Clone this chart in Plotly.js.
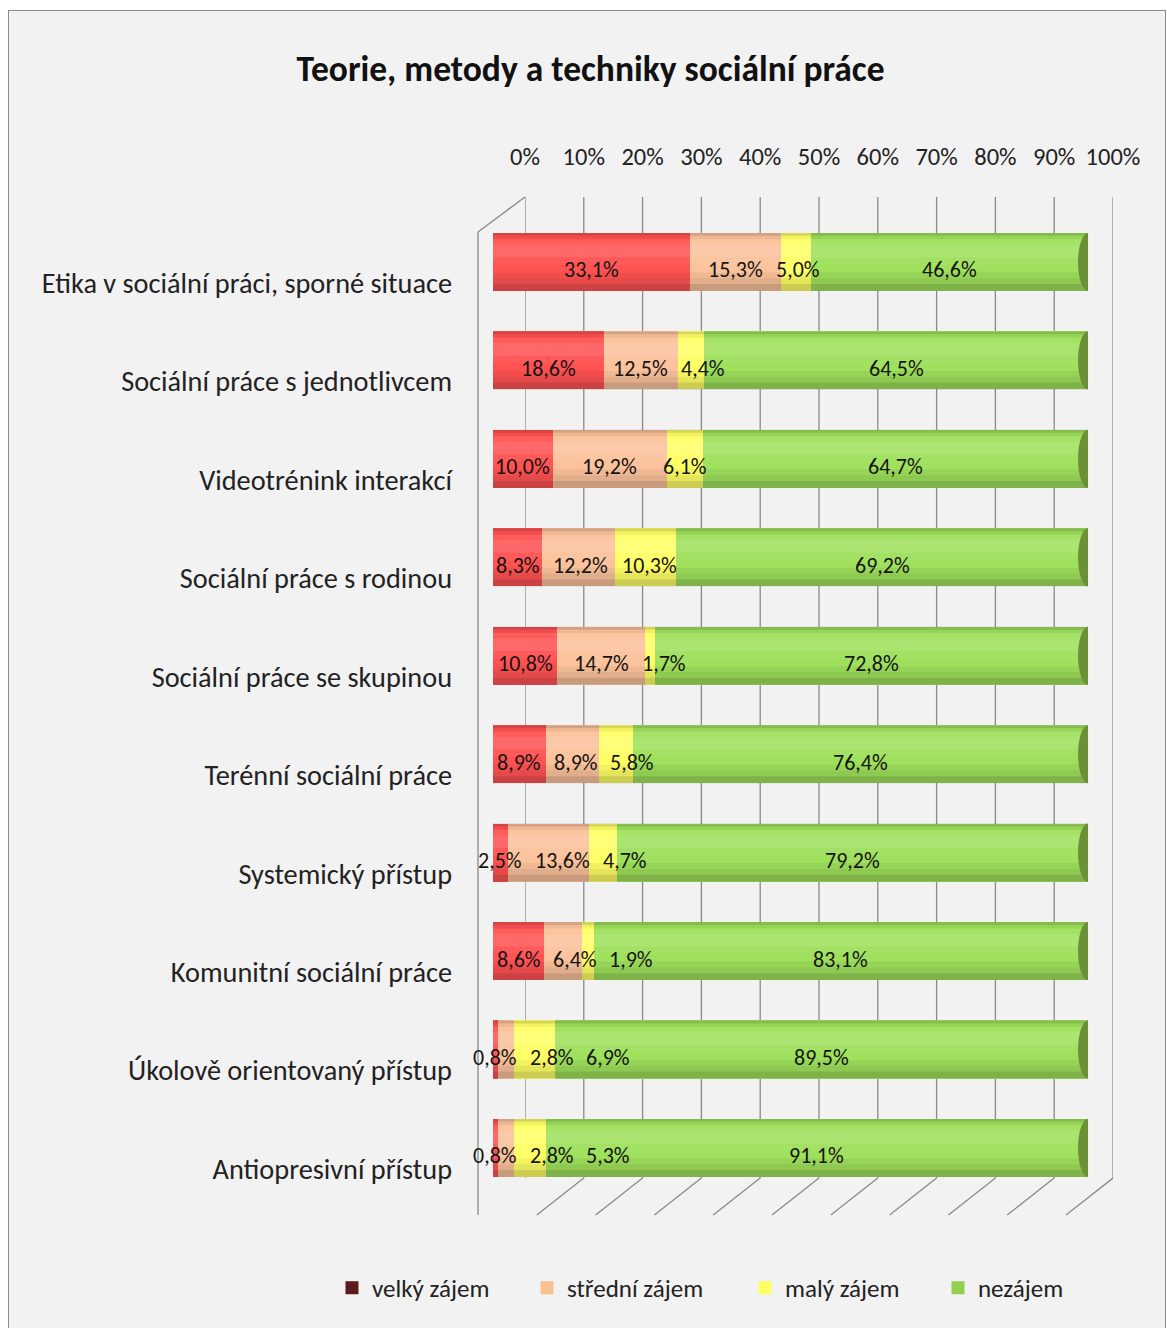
<!DOCTYPE html>
<html><head><meta charset="utf-8">
<script src="https://cdn.plot.ly/plotly-3.0.1.min.js"></script>
<style>
html,body{margin:0;padding:0;background:#fff;overflow:hidden;}
#frame{position:absolute;left:8px;top:10px;width:1158px;height:1340px;background:#f2f2f2;border:1.5px solid #8c8c8c;box-sizing:border-box;}
#chart{position:absolute;left:0;top:0;width:1167px;height:1328px;}
</style></head><body>
<div id="frame"></div><div id="chart"></div>
<script>
const categories = [
  'Etika v sociální práci, sporné situace',
  'Sociální práce s jednotlivcem',
  'Videotrénink interakcí',
  'Sociální práce s rodinou',
  'Sociální práce se skupinou',
  'Terénní sociální práce',
  'Systemický přístup',
  'Komunitní sociální práce',
  'Úkolově orientovaný přístup',
  'Antiopresivní přístup'
];
const velkyZajem   = [33.1, 18.6, 10.0, 8.3, 10.8, 8.9, 2.5, 8.6, 0.8, 0.8];
const stredniZajem = [15.3, 12.5, 19.2, 12.2, 14.7, 8.9, 13.6, 6.4, 2.8, 2.8];
const malyZajem    = [5.0, 4.4, 6.1, 10.3, 1.7, 5.8, 4.7, 1.9, 6.9, 5.3];
const nezajem      = [46.6, 64.5, 64.7, 69.2, 72.8, 76.4, 79.2, 83.1, 89.5, 91.1];
const seriesNames  = ['velký zájem', 'střední zájem', 'malý zájem', 'nezájem'];
const xTickValues  = [0, 10, 20, 30, 40, 50, 60, 70, 80, 90, 100];
const xTickLabels  = ['0%', '10%', '20%', '30%', '40%', '50%', '60%', '70%', '80%', '90%', '100%'];

const FONT = 'Carlito, Lato, "DejaVu Sans", sans-serif';
const barColors    = ['#ff5252', '#fbc29b', '#ffff66', '#9fe05c'];
const legendColors = ['#5c1a1a', '#fac090', '#ffff60', '#92d050'];
const legendWidths = [150, 173, 148, 120];
const seriesValues = [velkyZajem, stredniZajem, malyZajem, nezajem];

// layout geometry
const W = 1167, H = 1328;
const M = {l: 493, r: 54, t: 197, b: 113};
const plotW = W - M.l - M.r;
const barDomain = [0, 0.9597];
const wallXDomain = [0.0516, 1];
const wallYDomain = [0.0363, 1];
const pxPerUnit = plotW * (barDomain[1] - barDomain[0]) / 100;
const LABEL_SIZE = 22;

const traces = [];
// back-wall subplot (axis labels on top)
traces.push({type: 'scatter', mode: 'markers', x: [0, 100], y: [0, 0], xaxis: 'x', yaxis: 'y',
  marker: {opacity: 0}, showlegend: false, hoverinfo: 'skip'});
seriesValues.forEach((vals, k) => {
  traces.push({
    type: 'bar', orientation: 'h', name: seriesNames[k],
    x: vals, y: categories, xaxis: 'x2', yaxis: 'y2',
    marker: {color: barColors[k], line: {width: 0}},
    showlegend: false, hoverinfo: 'x+name'
  });
});
seriesNames.forEach((n, k) => {
  traces.push({
    type: 'scatter', mode: 'markers', name: n, x: [null], y: [null],
    xaxis: 'x2', yaxis: 'y2', legendwidth: legendWidths[k],
    marker: {symbol: 'square', size: 13, color: legendColors[k]},
    showlegend: true, hoverinfo: 'skip'
  });
});

// data labels (centered on segments, pushed apart when they would overlap)
const ctx = document.createElement('canvas').getContext('2d');
ctx.font = LABEL_SIZE + 'px Lato';
const fmt = v => v.toFixed(1).replace('.', ',') + '%';
const annotations = [];
categories.forEach((c, i) => {
  let cum = 0, prevPx = null, prevW = 0;
  seriesValues.forEach((vals, k) => {
    const v = vals[i];
    const txt = fmt(v);
    const w = ctx.measureText(txt).width;
    let px = (cum + v / 2) * pxPerUnit;
    if (prevPx !== null) px = Math.max(px, prevPx + (prevW + w) / 2 + 8);
    annotations.push({xref: 'x2', yref: 'y2', x: px / pxPerUnit, y: c, text: txt, showarrow: false,
      yshift: -8, font: {family: FONT, size: LABEL_SIZE, color: '#151515'}, xanchor: 'center'});
    prevPx = px; prevW = w; cum += v;
  });
});

const shapes = [];
const GRID = '#8a8a8a';
// back-wall gridlines and floor diagonals (lower layer, behind the bars)
xTickValues.forEach(t => {
  shapes.push({type: 'line', xref: 'x', x0: t, x1: t, yref: 'paper', y0: wallYDomain[0], y1: wallYDomain[1],
    line: {color: GRID, width: 1.3}, layer: 'below'});
  shapes.push({type: 'line', xref: 'x', xsizemode: 'pixel', xanchor: t, x0: 0, x1: -47,
    yref: 'paper', y0: wallYDomain[0], y1: 0, line: {color: GRID, width: 1.3}, layer: 'below'});
});
// left wall
shapes.push({type: 'line', xref: 'paper', yref: 'paper', x0: -0.0242, x1: -0.0242, y0: 0.9656, y1: 0,
  line: {color: GRID, width: 1.3}, layer: 'below'});
shapes.push({type: 'line', xref: 'paper', yref: 'paper', x0: -0.0242, x1: wallXDomain[0], y0: 0.9656, y1: 1,
  line: {color: GRID, width: 1.3}, layer: 'below'});
// cylinder shading bands (top -> bottom) and end caps
const bands = [
  [0.00, 0.05, 'rgba(0,0,0,0.16)'], [0.05, 0.11, 'rgba(0,0,0,0.05)'],
  [0.11, 0.20, 'rgba(255,255,255,0.06)'], [0.20, 0.42, 'rgba(255,255,255,0.13)'],
  [0.42, 0.55, 'rgba(255,255,255,0.05)'], [0.68, 0.78, 'rgba(0,0,0,0.05)'],
  [0.78, 0.88, 'rgba(0,0,0,0.10)'], [0.88, 1.00, 'rgba(0,0,0,0.20)']
];
const HALF = 0.295;
categories.forEach((c, i) => {
  bands.forEach(b => {
    shapes.push({type: 'rect', xref: 'x2', yref: 'y2', x0: 0, x1: 100,
      y0: i - HALF + 2 * HALF * b[0], y1: i - HALF + 2 * HALF * b[1],
      fillcolor: b[2], line: {width: 0}, layer: 'above'});
  });
  shapes.push({type: 'circle', xref: 'x2', xsizemode: 'pixel', xanchor: 100, x0: -10, x1: 10,
    yref: 'y2', y0: i - HALF, y1: i + HALF, fillcolor: '#6b9038', line: {width: 0}, layer: 'above'});
});

const layout = {
  width: W, height: H,
  paper_bgcolor: 'rgba(0,0,0,0)', plot_bgcolor: 'rgba(0,0,0,0)',
  margin: M,
  separators: ', ',
  barmode: 'stack', bargap: 0.41,
  font: {family: FONT, color: '#222'},
  title: {text: '<b>Teorie, metody a techniky sociální práce</b>', font: {family: FONT, size: 35.5, color: '#111'},
    xref: 'container', yref: 'container', x: 0.506, y: 0.948, xanchor: 'center', yanchor: 'middle'},
  xaxis: {domain: wallXDomain, range: [0, 100], anchor: 'y', side: 'top', tickvals: xTickValues,
    ticktext: xTickLabels, showgrid: false, zeroline: false, showline: false,
    ticks: '', ticklabelstandoff: 26, tickfont: {family: FONT, size: 24.5, color: '#222'}},
  yaxis: {domain: wallYDomain, range: [0, 1], anchor: 'x', visible: false},
  xaxis2: {domain: barDomain, range: [0, 100], anchor: 'y2', visible: false},
  yaxis2: {domain: [0.0175, 0.9845], anchor: 'x2', type: 'category', autorange: 'reversed', showgrid: false,
    showline: false, zeroline: false, ticks: '', ticklabelstandoff: 40, ticklabelshift: -21,
    tickfont: {family: FONT, size: 28.3, color: '#222'}},
  legend: {orientation: 'h', traceorder: 'normal', x: -0.2597, xanchor: 'left', y: -0.0717, yanchor: 'middle',
    font: {family: FONT, size: 25, color: '#222'}, bgcolor: 'rgba(0,0,0,0)'},
  shapes: shapes,
  annotations: annotations,
  showlegend: true
};
Plotly.newPlot('chart', traces, layout, {displayModeBar: false, staticPlot: true});
</script>
</body></html>
